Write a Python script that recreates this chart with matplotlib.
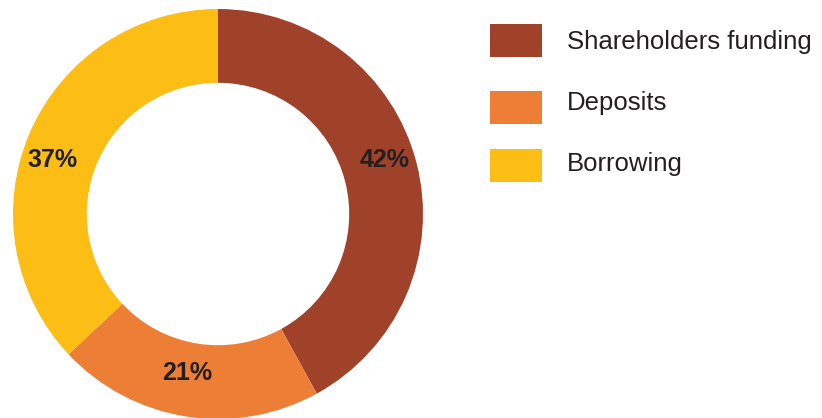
import matplotlib.pyplot as plt
from matplotlib.patches import Rectangle

# Data
labels = ["Shareholders funding", "Deposits", "Borrowing"]
shares = [42, 21, 37]
colors = ["#A0412A", "#EC7F35", "#FCBD14"]

plt.rcParams["font.family"] = ["Liberation Sans", "DejaVu Sans"]
text_color = "#231F20"

fig = plt.figure(figsize=(8.22, 4.18), dpi=100)

# donut
ax = fig.add_axes([13 / 822, -1 / 418, 410 / 822, 410 / 418])
wedges, texts, autotexts = ax.pie(
    shares, colors=colors, startangle=90, counterclock=False,
    radius=1, wedgeprops=dict(width=0.36, linewidth=0),
    autopct="%d%%", pctdistance=0.84,
    textprops=dict(fontsize=18, fontweight="bold", color=text_color))
# nudge the percent labels to where they sit in the original
label_pos = [(0.815, 0.263), (-0.151, -0.776), (-0.805, 0.263)]
for t, p in zip(autotexts, label_pos):
    t.set_position(p)
ax.set_xlim(-1, 1)
ax.set_ylim(-1, 1)
ax.set_aspect("equal")
ax.axis("off")

# legend, drawn in pixel coordinates
lax = fig.add_axes([0, 0, 1, 1])
lax.set_xlim(0, 822)
lax.set_ylim(418, 0)
lax.axis("off")
box_tops = [24, 91, 149]
text_y = [42, 103, 164]
for lab, col, top, ty in zip(labels, colors, box_tops, text_y):
    lax.add_patch(Rectangle((490, top), 52, 33, color=col, lw=0))
    lax.text(567, ty, lab, fontsize=18.5, color=text_color, va="center", ha="left")

fig.savefig("out.png", dpi=100)
